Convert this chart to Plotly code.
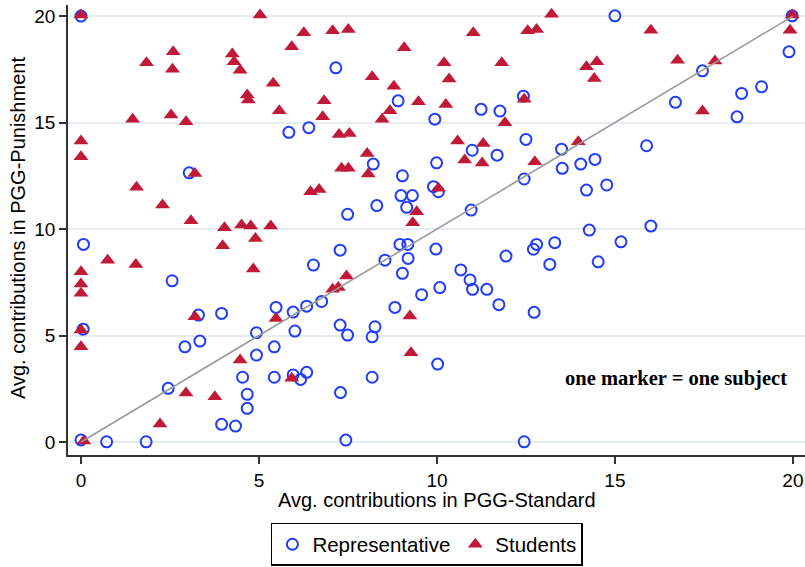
import plotly.graph_objects as go

# Representative subjects (open blue circles)
rep_x = [0, 0.07, 0.06, 0, 0.72, 1.83, 2.45, 2.56, 2.92, 3.04, 3.3, 3.34, 3.95, 3.95, 4.34,
         4.54, 4.67, 4.67, 4.93, 4.93, 5.43, 5.43, 5.48, 5.84, 5.96, 6.01, 5.96, 6.17, 6.34,
         6.34, 6.4, 6.53, 6.76, 7.16, 7.28, 7.28, 7.29, 7.44, 7.49, 7.49, 8.18, 8.18, 8.21,
         8.26, 8.31, 8.54, 8.82, 8.91, 8.96, 8.99, 9.03, 9.03, 9.15, 9.18, 9.19, 9.31, 9.57,
         9.9, 9.94, 9.97, 9.99, 10.02, 10.04, 10.08, 10.67, 10.93, 10.96, 10.99, 11.0, 11.24,
         11.4, 11.69, 11.74, 11.77, 11.94, 12.43, 12.45, 12.45, 12.5, 12.71, 12.73, 12.8,
         13.17, 13.31, 13.5, 13.52, 14.04, 14.44, 14.2, 14.28, 14.53, 14.77, 15.0, 15.17,
         15.89, 16.01, 16.7, 17.46, 18.43, 18.56, 19.12, 19.89, 19.98]
rep_y = [20.0, 9.28, 5.3, 0.1, 0.01, 0.01, 2.52, 7.57, 4.47, 12.64, 5.96, 4.74, 6.04, 0.83, 0.75,
         3.04, 2.24, 1.58, 5.13, 4.08, 4.47, 3.04, 6.32, 14.54, 6.1, 5.21, 3.15, 2.94, 3.27,
         6.38, 14.76, 8.31, 6.6, 17.57, 9.01, 5.49, 2.32, 0.09, 5.02, 10.69, 3.04, 4.94, 13.05,
         5.41, 11.1, 8.54, 6.32, 16.02, 9.28, 11.57, 12.5, 7.92, 11.02, 9.28, 8.62, 11.57, 6.92,
         11.99, 15.16, 9.06, 13.11, 3.66, 11.75, 7.25, 8.08, 7.61, 10.89, 13.7, 7.17, 15.62,
         7.17, 13.47, 6.45, 15.54, 8.73, 16.24, 12.35, 0.01, 14.21, 9.05, 6.09, 9.28,
         8.34, 9.36, 13.75, 12.85, 13.05, 13.27, 11.83, 9.95, 8.46, 12.07, 20.01, 9.4,
         13.91, 10.14, 15.95, 17.43, 15.27, 16.37, 16.68, 18.32, 20.01]

# Student subjects (filled red triangles)
stu_x = [0, 0, 0, 0, 0, 0, 0, 0, 0.08, 0.75, 1.45, 1.54, 1.56, 1.84, 2.22, 2.29, 2.53, 2.57,
         2.59, 2.95, 2.95, 3.09, 3.2, 3.2, 3.76, 3.98, 4.03, 4.25, 4.3, 4.47, 4.47, 4.51, 4.67,
         4.7, 4.77, 4.84, 4.9, 5.03, 5.33, 5.4, 5.48, 5.57, 5.92, 5.92, 6.26, 6.45, 6.69, 6.79,
         6.83, 7.07, 7.07, 7.23, 7.25, 7.32, 7.46, 7.51, 7.51, 7.54, 8.04, 8.07, 8.18, 8.46,
         8.68, 8.79, 9.08, 9.24, 9.27, 9.32, 9.43, 9.48, 10.04, 10.2, 10.25, 10.34, 10.58,
         10.78, 11.02, 11.27, 11.3, 11.82, 11.91, 12.45, 12.55, 12.75, 12.8, 13.22, 13.97,
         14.2, 14.49, 14.42, 16.01, 16.76, 17.46, 17.81, 19.92, 19.98]
stu_y = [20.05, 14.13, 13.4, 8.0, 7.42, 6.98, 5.26, 4.47, 0.05, 8.54, 15.15, 8.34, 11.96, 17.81,
         0.84, 11.13, 15.35, 17.5, 18.32, 15.04, 2.3, 10.39, 12.61, 5.88, 2.13, 9.22, 10.06,
         18.22, 17.86, 17.46, 3.85, 10.19, 16.29, 16.06, 10.14, 8.12, 9.56, 20.05, 10.14,
         16.84, 5.8, 15.55, 18.56, 2.99, 19.22, 11.75, 11.86, 15.27, 16.02, 19.31, 7.17, 7.25,
         14.44, 12.85, 7.79, 12.85, 19.37, 14.49, 13.55, 12.58, 17.15, 15.15, 15.55, 16.71,
         18.51, 5.92, 4.19, 10.3, 10.81, 15.98, 11.91, 17.81, 15.85, 17.04, 14.13, 13.24,
         19.22, 13.1, 14.02, 17.81, 14.99, 16.1, 19.31, 13.16, 19.37, 20.09, 14.1, 17.62,
         17.86, 17.07, 19.34, 17.93, 15.54, 17.89, 19.34, 20.05]

diag_x = [0, 20]
diag_y = [0, 20]
tick_vals = [0, 5, 10, 15, 20]
x_title = "Avg. contributions in PGG-Standard"
y_title = "Avg. contributions in PGG-Punishment"
note_text = "one marker = one subject"

FONT = "Liberation Sans, Arial, sans-serif"

fig = go.Figure()
fig.add_trace(go.Scatter(
    x=rep_x, y=rep_y, mode="markers", name="Representative",
    marker=dict(symbol="circle-open", size=11, color="#1f3cff", line=dict(width=2, color="#1f3cff")),
))
fig.add_trace(go.Scatter(
    x=stu_x, y=stu_y, mode="markers", name="Students",
    marker=dict(symbol="triangle-up", size=13, color="#c11a38", line=dict(width=0)),
))
fig.add_trace(go.Scatter(
    x=diag_x, y=diag_y, mode="lines", showlegend=False, hoverinfo="skip",
    line=dict(color="#9a9a9a", width=1.6),
))

fig.add_annotation(
    x=16.72, y=3.0, xref="x", yref="y", text="<b>" + note_text + "</b>",
    showarrow=False, font=dict(family="Liberation Serif, Times New Roman, serif", size=20.5, color="black"),
)
fig.add_annotation(
    x=0.5, y=-0.1, xref="paper", yref="paper", text=x_title, showarrow=False,
    xanchor="center", yanchor="middle", font=dict(family=FONT, size=20, color="black"),
)
fig.add_annotation(
    x=-0.068, y=0.504, xref="paper", yref="paper", text=y_title, showarrow=False,
    textangle=-90, xanchor="center", yanchor="middle", font=dict(family=FONT, size=20, color="black"),
)

fig.update_layout(
    width=805, height=567,
    margin=dict(l=68, r=0, t=5, b=112, autoexpand=False),
    paper_bgcolor="white", plot_bgcolor="white",
    font=dict(family=FONT, size=19, color="black"),
    showlegend=True,
    legend=dict(
        orientation="h", x=0.487, xanchor="center", y=-0.151, yanchor="top",
        bordercolor="black", borderwidth=1.5, bgcolor="white",
        font=dict(family=FONT, size=20.5, color="black"),
        itemwidth=30,
    ),
)
fig.update_xaxes(
    range=[-0.365, 20.34], tickvals=tick_vals, showgrid=False, zeroline=False, automargin=False,
    showline=True, linecolor="#333333", linewidth=1.5,
    ticks="outside", ticklen=7, tickwidth=1.5, tickcolor="#333333",
    tickfont=dict(size=19),
)
fig.update_yaxes(
    range=[-0.61, 20.52], tickvals=tick_vals, showgrid=True, gridcolor="#e6edf2", gridwidth=1.5,
    zeroline=False, showline=True, linecolor="#333333", linewidth=1.5, automargin=False,
    ticks="outside", ticklen=7, tickwidth=1.5, tickcolor="#333333",
    tickfont=dict(size=19),
)

fig.write_html(
    "out.html",
    config={"displayModeBar": False},
    post_script="document.body.style.margin='0';document.body.style.overflow='hidden';",
)
